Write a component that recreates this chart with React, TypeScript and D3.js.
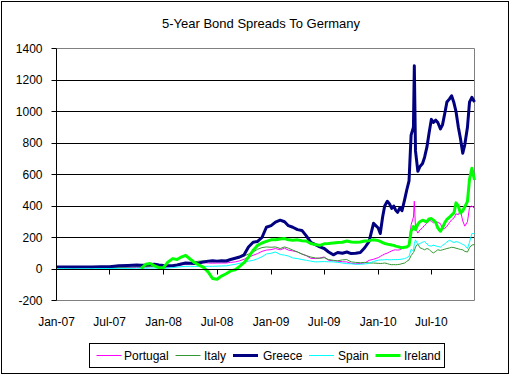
import React from "react";
import * as d3 from "d3";

const TITLE = "5-Year Bond Spreads To Germany";

const DATES = [
  "2007-01-01","2007-02-01","2007-03-01","2007-04-01","2007-05-01","2007-06-01","2007-07-01","2007-08-01","2007-09-01","2007-10-01",
  "2007-10-16","2007-11-01","2007-11-16","2007-12-01","2007-12-16",
  "2008-01-01","2008-01-16","2008-02-01","2008-02-16","2008-03-01","2008-03-16","2008-04-01","2008-04-16","2008-05-01","2008-05-16","2008-06-01","2008-06-16",
  "2008-07-01","2008-07-16","2008-08-01","2008-08-16","2008-09-01","2008-09-16","2008-10-01","2008-10-16","2008-11-01","2008-11-16","2008-12-01","2008-12-16",
  "2009-01-01","2009-01-16","2009-02-01","2009-02-16","2009-03-01","2009-03-16","2009-04-01","2009-04-16","2009-05-01","2009-05-16","2009-06-01","2009-06-16",
  "2009-07-01","2009-07-16","2009-08-01","2009-08-16","2009-09-01","2009-09-16","2009-10-01","2009-10-16","2009-11-01","2009-11-16","2009-12-01","2009-12-16",
  "2010-01-01","2010-01-08","2010-01-16","2010-01-23","2010-02-01","2010-02-08","2010-02-16","2010-02-23","2010-03-01","2010-03-08","2010-03-16","2010-03-23",
  "2010-04-01","2010-04-08","2010-04-16","2010-04-23","2010-05-01","2010-05-04","2010-05-08","2010-05-16","2010-05-23",
  "2010-06-01","2010-06-08","2010-06-16","2010-06-23","2010-07-01","2010-07-08","2010-07-16","2010-07-23","2010-08-01","2010-08-08","2010-08-16","2010-08-23",
  "2010-09-01","2010-09-08","2010-09-16","2010-09-23","2010-10-01","2010-10-08","2010-10-16","2010-10-23","2010-11-01","2010-11-08","2010-11-16","2010-11-25",
];

const PORTUGAL = [
  5,5,5,6,5,6,6,8,10,10,
  10,12,14,14,12,
  8,12,17,22,27,30,32,35,38,40,38,37,38,38,38,42,45,52,62,75,87,98,112,120,
  123,130,122,132,120,115,108,95,85,68,66,70,76,55,52,50,46,45,36,33,35,38,55,62,
  72,80,88,95,101,108,115,120,122,120,122,130,138,143,150,280,330,430,260,228,
  248,262,278,292,308,305,292,300,296,288,255,258,272,295,312,324,350,345,372,305,
  272,300,390,400,385,
];

const ITALY = [
  7,7,7,8,8,8,9,10,12,14,
  14,15,16,16,15,
  14,18,24,28,33,38,42,46,50,52,50,52,53,54,55,60,65,72,82,95,108,125,136,140,
  138,140,130,140,132,120,108,95,85,76,70,68,72,60,55,52,58,60,45,42,40,42,38,38,
  36,35,36,38,34,30,27,28,27,28,30,34,38,48,58,85,105,115,140,160,
  135,128,122,130,125,110,102,112,122,118,122,126,130,134,138,136,132,128,124,122,
  112,108,135,152,155,
];

const GREECE = [
  12,12,12,13,13,14,15,20,22,25,
  24,25,28,30,25,
  22,20,20,25,32,38,36,35,38,45,50,52,50,52,51,60,68,76,90,140,170,175,200,265,
  275,298,310,300,275,265,250,245,210,170,155,140,130,108,90,105,100,108,98,100,105,135,175,290,
  260,225,330,400,430,415,385,400,375,360,390,370,440,500,560,850,900,1290,750,620,
  650,670,710,775,860,950,930,945,930,890,915,990,1060,1080,1100,1055,1000,900,830,735,
  790,900,1060,1090,1060,
];

const SPAIN = [
  2,2,1,2,2,3,3,4,4,5,
  5,5,6,6,5,
  3,6,9,12,15,17,17,16,17,17,17,17,18,19,20,25,30,36,42,50,55,65,78,95,
  100,108,92,88,82,70,66,60,55,50,45,46,47,46,45,42,38,34,33,30,30,32,36,48,
  56,57,58,59,60,58,59,60,59,60,61,63,66,72,80,125,115,160,185,155,
  162,170,175,158,148,145,152,146,143,139,150,160,172,183,175,168,174,170,164,156,
  150,130,170,225,225,
];

const IRELAND: (number | null)[] = [
  null,null,null,null,null,null,null,null,null,null,
  2,30,35,20,8,
  10,45,66,60,76,87,62,40,25,10,-20,-61,-65,-45,-30,-12,-5,17,40,75,119,150,165,175,
  185,186,190,193,185,182,185,180,178,162,155,150,160,162,165,168,170,178,172,170,172,178,180,186,
  180,175,168,162,158,155,152,150,145,142,138,135,138,140,150,240,270,255,250,285,
  300,310,305,300,318,320,310,295,260,240,262,295,315,330,342,356,420,400,355,370,
  395,430,570,640,565,
];

const SERIES_NAMES = ["Portugal", "Italy", "Greece", "Spain", "Ireland"];
const SERIES_VALUES = [PORTUGAL, ITALY, GREECE, SPAIN, IRELAND];
const SERIES_COLORS = ["#FF00FF", "#339933", "#000080", "#00FFFF", "#00FF00"];
const SERIES_WIDTHS = [1, 1, 3, 1, 3];

const Y_TICKS = [-200, 0, 200, 400, 600, 800, 1000, 1200, 1400];
const X_TICKS = ["2007-01-01","2007-07-01","2008-01-01","2008-07-01","2009-01-01","2009-07-01","2010-01-01","2010-07-01"];

const FONT = "'Liberation Sans', Arial, sans-serif";

export default function App() {
  const W = 513, H = 376;
  const L = 56.5, R = 474.5, T = 48.5, B = 300.5;
  const parse = d3.timeParse("%Y-%m-%d");
  const dates = DATES.map((d) => parse(d) as Date);
  const x = d3.scaleTime().domain([parse("2007-01-01") as Date, parse("2010-11-25") as Date]).range([L, R]);
  const y = d3.scaleLinear().domain([-200, 1400]).range([B, T]);
  const fmt = d3.timeFormat("%b-%y");
  const snap = (v: number) => Math.round(v - 0.5) + 0.5;

  const legendItems = [
    { x1: 96.5, tx: 124 },
    { x1: 175.5, tx: 204 },
    { x1: 233, tx: 263 },
    { x1: 309, tx: 338 },
    { x1: 375.5, tx: 404 },
  ];

  return (
    <svg width={W} height={H} style={{ position: "absolute", left: 0, top: 0, background: "#fff" }} fontFamily={FONT}>
      <rect x={0} y={0} width={W} height={H} fill="#fff" />
      <rect x={1.5} y={1.5} width={507} height={372} fill="none" stroke="#000" strokeWidth={1} />
      <text x={261} y={28} fontSize={13} textAnchor="middle" fill="#000">{TITLE}</text>

      {/* gridlines */}
      {Y_TICKS.filter((t) => t > 0 && t < 1400).map((t) => (
        <line key={"g" + t} x1={L} x2={R} y1={snap(y(t))} y2={snap(y(t))} stroke="#000" strokeWidth={1} />
      ))}
      {/* plot border (gray) */}
      <line x1={L} x2={R} y1={T} y2={T} stroke="#808080" />
      <line x1={L} x2={R} y1={B} y2={B} stroke="#808080" />
      <line x1={R} x2={R} y1={T} y2={B} stroke="#808080" />

      {/* series */}
      {SERIES_VALUES.map((vals, i) => {
        const line = d3
          .line<number | null>()
          .defined((d) => d !== null)
          .x((_, j) => x(dates[j]))
          .y((d) => y(d as number));
        return (
          <path key={SERIES_NAMES[i]} d={line(vals as (number | null)[]) || ""} fill="none"
            stroke={SERIES_COLORS[i]} strokeWidth={SERIES_WIDTHS[i]} strokeLinejoin="round" />
        );
      })}

      {/* y axis */}
      <line x1={L} x2={L} y1={T} y2={B} stroke="#000" />
      {Y_TICKS.map((t) => (
        <g key={"y" + t}>
          <line x1={L - 5} x2={L} y1={snap(y(t))} y2={snap(y(t))} stroke="#000" />
          <text x={42.5} y={y(t) + 4.3} fontSize={12} textAnchor="end" fill="#000">{t}</text>
        </g>
      ))}

      {/* x axis at zero */}
      <line x1={L} x2={R} y1={snap(y(0))} y2={snap(y(0))} stroke="#000" />
      {X_TICKS.map((s) => {
        const d = parse(s) as Date;
        const xp = snap(x(d));
        return (
          <g key={s}>
            <line x1={xp} x2={xp} y1={snap(y(0))} y2={snap(y(0)) + 5} stroke="#000" />
            <text x={x(d)} y={326} fontSize={12} textAnchor="middle" fill="#000">{fmt(d)}</text>
          </g>
        );
      })}

      {/* legend */}
      <rect x={89.5} y={343.5} width={355} height={24} fill="#fff" stroke="#000" />
      {SERIES_NAMES.map((n, i) => (
        <g key={"l" + n}>
          <line x1={legendItems[i].x1} x2={legendItems[i].x1 + 25} y1={355.5} y2={355.5}
            stroke={SERIES_COLORS[i]} strokeWidth={SERIES_WIDTHS[i]} />
          <text x={legendItems[i].tx} y={359.5} fontSize={12} fill="#000">{n}</text>
        </g>
      ))}
    </svg>
  );
}
